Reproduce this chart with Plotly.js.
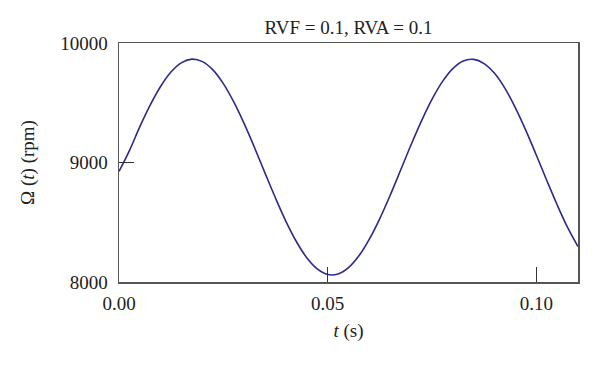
<!DOCTYPE html>
<html>
<head>
<meta charset="utf-8">
<script src="https://cdn.plot.ly/plotly-3.0.1.min.js"></script>
<style>html,body{margin:0;padding:0;background:#fff;}#chart{width:600px;height:376px;}</style>
</head>
<body>
<div id="chart"></div>
<script>
// time (s)
const timeS = [0, 0.0025, 0.005, 0.0075, 0.01, 0.0125, 0.015, 0.0175, 0.02, 0.0225,
  0.025, 0.0275, 0.03, 0.0325, 0.035, 0.0375, 0.04, 0.0425, 0.045, 0.0475,
  0.05, 0.0525, 0.055, 0.0575, 0.06, 0.0625, 0.065, 0.0675, 0.07, 0.0725,
  0.075, 0.0775, 0.08, 0.0825, 0.085, 0.0875, 0.09, 0.0925, 0.095, 0.0975,
  0.1, 0.1025, 0.105, 0.1075, 0.11];
// rotational speed Omega(t) (rpm)
const omegaRpm = [8925, 9100, 9300, 9482, 9638, 9759, 9836, 9865, 9844, 9775,
  9660, 9507, 9325, 9123, 8911, 8703, 8508, 8339, 8203, 8110,
  8063, 8067, 8120, 8219, 8359, 8531, 8727, 8937, 9148, 9348,
  9528, 9677, 9786, 9850, 9863, 9828, 9746, 9620, 9458, 9269,
  9063, 8852, 8646, 8457, 8297];
const xTickVals = [0, 0.05, 0.10];
const xTickText = ["0.00", "0.05", "0.10"];
const yTickVals = [8000, 9000, 10000];
const yTickText = ["8000", "9000", "10000"];

const font = {family: "Liberation Serif, Times New Roman, serif", size: 19, color: "#222"};
const trace = {
  x: timeS, y: omegaRpm, type: "scatter", mode: "lines",
  line: {color: "#2d2a8c", width: 1.6, shape: "spline"},
  hoverinfo: "skip"
};
const layout = {
  width: 600, height: 376,
  margin: {l: 119, r: 22, t: 43, b: 94, pad: 0},
  paper_bgcolor: "#fff", plot_bgcolor: "#fff",
  font: font,
  showlegend: false,
  title: {text: "RVF = 0.1, RVA = 0.1", font: font, x: 0.5, xref: "paper", y: 1, yref: "paper", yanchor: "bottom", pad: {b: 9}},
  xaxis: {
    range: [0, 0.11], tickvals: xTickVals, ticktext: xTickText,
    ticks: "inside", ticklen: 15, tickwidth: 1.2, tickcolor: "#333",
    showline: true, linecolor: "#555", linewidth: 1.5, mirror: true,
    showgrid: false, zeroline: false, tickfont: font, ticklabelstandoff: 4,
    title: {text: "<i>t</i> (s)", font: font, standoff: 10}
  },
  yaxis: {
    range: [8000, 10000], tickvals: yTickVals, ticktext: yTickText,
    ticks: "inside", ticklen: 15, tickwidth: 1.2, tickcolor: "#333",
    showline: true, linecolor: "#555", linewidth: 1.5, mirror: true,
    showgrid: false, zeroline: false, tickfont: font, ticklabelstandoff: 6,
    title: {text: "Ω (<i>t</i>) (rpm)", font: font, standoff: 20}
  }
};
Plotly.newPlot("chart", [trace], layout, {staticPlot: true, displayModeBar: false});
</script>
</body>
</html>
